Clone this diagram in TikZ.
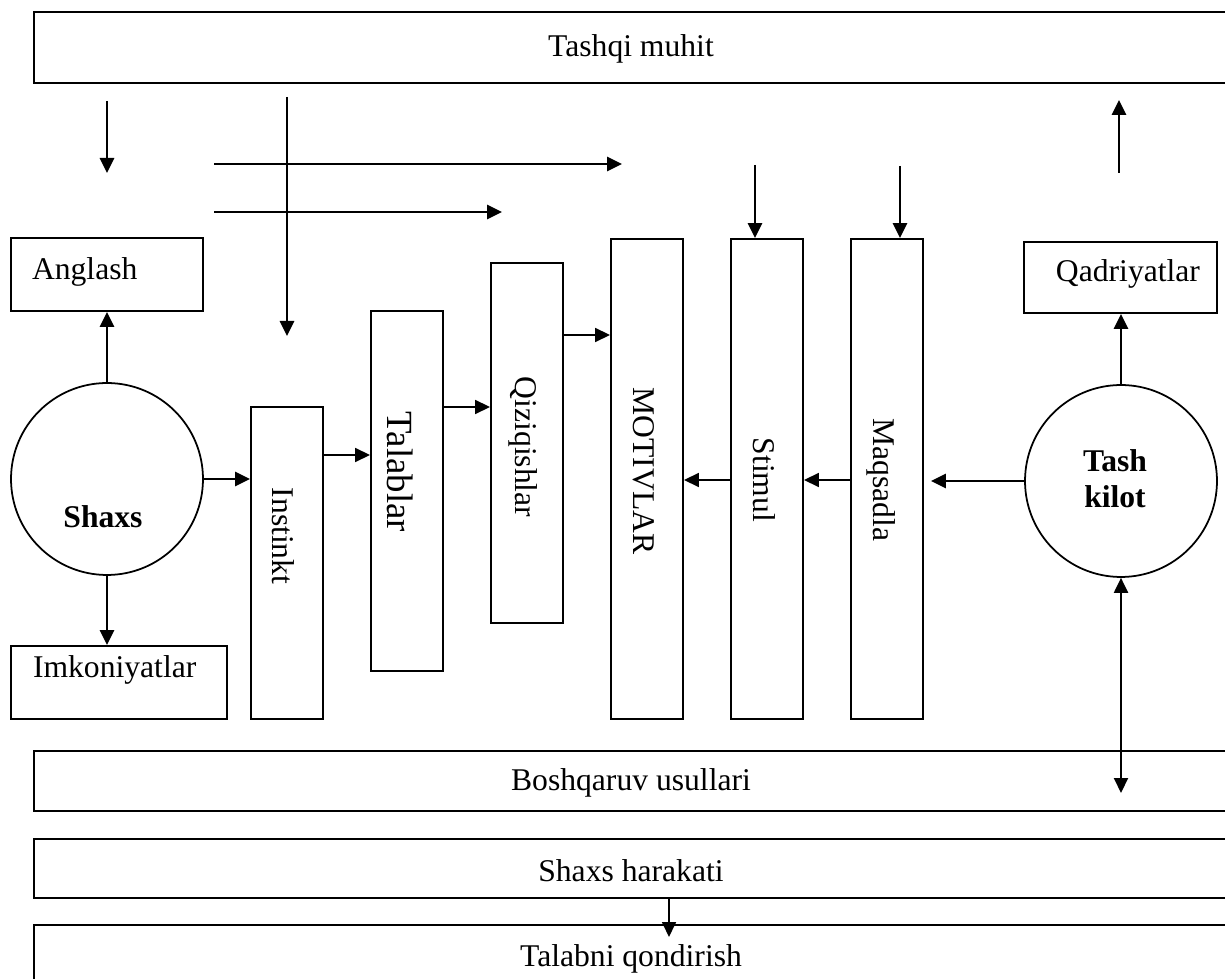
\documentclass[tikz,border=0pt]{standalone}
\usepackage{fontspec}
\setmainfont{Liberation Serif}
\usetikzlibrary{arrows.meta}
\begin{document}
\begin{tikzpicture}[x=0.02cm,y=-0.02cm,
  box/.style={draw, rectangle, line width=1.1pt, inner sep=0pt,
    font=\fontsize{18}{21.6}\selectfont},
  bar/.style={box, minimum width=23.88cm},
  col/.style={box, minimum width=1.44cm},
  circ/.style={draw, circle, line width=1pt, minimum size=3.84cm, inner sep=0pt},
  txt/.style={inner sep=0pt, font=\fontsize{18}{21.6}\selectfont},
  vtxt/.style={txt, rotate=-90, anchor=base},
  tip/.style={-{Triangle[length=0.3cm,width=0.28cm]}},
  heavy/.style={tip, line width=1.5pt},
  light/.style={tip, line width=1pt},
]
\useasboundingbox (0,0) rectangle (1225,979);

% wide bars
\node[bar, minimum height=1.42cm, text height=0.44cm, text depth=0.06cm] (env) at (631,47.5) {Tashqi muhit};
\node[bar, minimum height=1.2cm, text height=0.44cm, text depth=0.04cm] (methods) at (631,781) {Boshqaruv usullari};
\node[bar, minimum height=1.18cm, text height=0.54cm, text depth=0cm] (action) at (631,868.5) {Shaxs harakati};
\node[bar, minimum height=1.28cm, text height=0.44cm, text depth=0.04cm] (satisfy) at (631,957) {Talabni qondirish};

% side boxes
\node[box, minimum width=3.84cm, minimum height=1.46cm, text width=3.0cm,
  inner xsep=0.42cm, align=left, text height=0.44cm, text depth=0.22cm]
  (anglash) at (107,274.5) {Anglash};
\node[box, minimum width=4.32cm, minimum height=1.46cm, text width=3.44cm,
  inner xsep=0.44cm, align=left, text height=0.44cm, text depth=0.62cm]
  (imkon) at (119,682.5) {Imkoniyatlar};
\node[box, minimum width=3.86cm, minimum height=1.42cm, text width=3.18cm,
  inner xsep=0.34cm, align=right, text height=0.44cm, text depth=0.26cm]
  (qadr) at (1120.5,277.5) {Qadriyatlar};

% circles
\node[circ] (shaxs) at (107,479) {};
\node[txt, font=\fontsize{18}{21.6}\selectfont\bfseries, anchor=base] (shaxsT) at (103,528) {Shaxs};
\node[circ] (tash) at (1121,481) {};
\node[txt, font=\fontsize{18}{20.4}\selectfont\bfseries, align=center] (tashT) at (1115,479) {Tash\\kilot};

% vertical columns
\node[col, minimum height=6.24cm] (inst) at (287,563) {};
\node[col, minimum height=7.2cm] (tal) at (407,491) {};
\node[col, minimum height=7.2cm] (qiz) at (527,443) {};
\node[col, minimum height=9.6cm] (motiv) at (647,479) {};
\node[col, minimum height=9.6cm] (stim) at (767,479) {};
\node[col, minimum height=9.6cm] (maqs) at (887,479) {};

\node[vtxt] (instT) at (272,536) {Instinkt};
\node[vtxt, font=\fontsize{21}{25}\selectfont] (talT) at (387,472) {Talablar};
\node[vtxt] (qizT) at (515,447) {Qiziqishlar};
\node[vtxt] (motivT) at (633,471) {MOTIVLAR};
\node[vtxt] (stimT) at (753,480) {Stimul};
\node[vtxt] (maqsT) at (873,480) {Maqsadla};

% free arrow ends
\coordinate (a1s) at (107,101);  \coordinate (a1e) at (107,173);
\coordinate (a2s) at (287,97);   \coordinate (a2e) at (287,336);
\coordinate (h1s) at (214,164);  \coordinate (h1e) at (622,164);
\coordinate (h2s) at (214,212);  \coordinate (h2e) at (502,212);
\coordinate (d1s) at (755,165);
\coordinate (d2s) at (900,166);
\coordinate (ups) at (1119,173); \coordinate (upe) at (1119,100);
\coordinate (yA) at (0,455);
\coordinate (yB) at (0,407);
\coordinate (yC) at (0,335);
\coordinate (yD) at (0,480);
\coordinate (dbl) at (0,793);
\coordinate (ds) at (669,898);   \coordinate (de) at (669,937);

% arrows from the environment
\draw[heavy] (a1s) -- (a1e);
\draw[heavy] (a2s) -- (a2e);
\draw[heavy] (h1s) -- (h1e);
\draw[heavy] (h2s) -- (h2e);
\draw[heavy] (d1s) -- (d1s |- stim.north);
\draw[heavy] (d2s) -- (d2s |- maqs.north);
\draw[heavy] (ups) -- (upe);

% person
\draw[heavy] (shaxs.north) -- (shaxs.north |- anglash.south);
\draw[heavy] (shaxs.south) -- (shaxs.south |- imkon.north);
\draw[heavy] (shaxs.east) -- (shaxs.east -| inst.west);

% chain of columns
\draw[light] (inst.east |- yA) -- (tal.west |- yA);
\draw[light] (tal.east |- yB) -- (qiz.west |- yB);
\draw[light] (qiz.east |- yC) -- (motiv.west |- yC);
\draw[light] (stim.west |- yD) -- (motiv.east |- yD);
\draw[light] (maqs.west |- yD) -- (stim.east |- yD);

% organisation
\draw[heavy] (tash.north) -- (tash.north |- qadr.south);
\draw[heavy, shorten >=0.14cm] (tash.west) -- (tash.west -| maqs.east);
\draw[{Triangle[length=0.3cm,width=0.28cm]}-{Triangle[length=0.3cm,width=0.28cm]}, line width=1.2pt]
  (tash.south) -- (tash.south |- dbl);

% bottom
\draw[light] (ds) -- (de);
\end{tikzpicture}
\end{document}
